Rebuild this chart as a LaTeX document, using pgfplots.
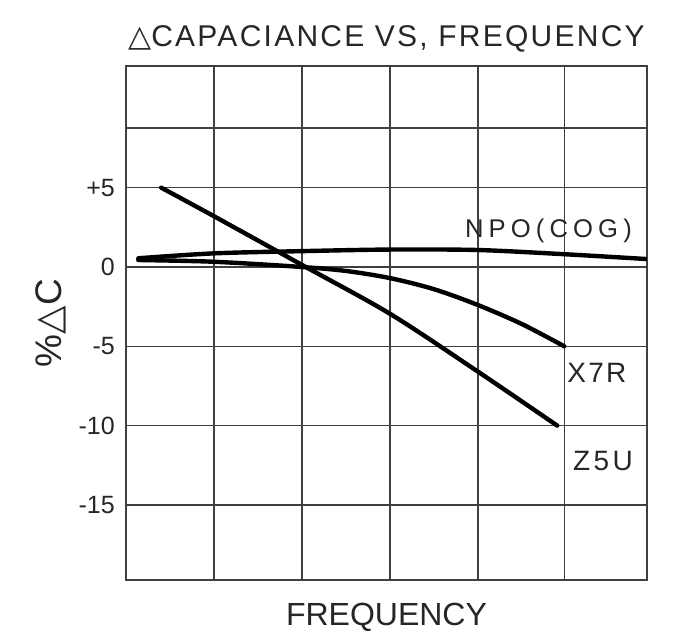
\documentclass[border=0pt]{standalone}
\usepackage{fontspec}
\setmainfont{Liberation Sans}
\newfontfamily\dejavu{DejaVu Sans}
\usepackage{pgfplots}
\pgfplotsset{compat=1.18}

\begin{document}
\begin{tikzpicture}
\begin{axis}[
 name=ax,
 scale only axis,
 width=521bp, height=514bp,
 xmin=0, xmax=5.92, ymin=-19.73, ymax=12.67,
 xtick={1,2,3,4,4.98}, xticklabels={},
 ytick={-15,-10,-5,0,5,8.76},
 yticklabels={{\raisebox{-11bp}{-15}},{\raisebox{-11bp}{-10}},{-5},{0},{+5},{}},
 major tick length=0pt,
 grid=major,
 grid style={line width=1.4bp, black!75},
 axis line style={line width=1.7bp, black!75},
 yticklabel style={font=\fontsize{25bp}{30bp}\selectfont, text=black!85, inner xsep=0pt, xshift=-11bp},
 clip=true,
]
% NPO(COG)
\addplot[line width=4.4bp, black, smooth, line cap=round] coordinates {
 (0.14,0.55) (1.0,0.86) (2.0,1.0) (3.0,1.1) (4.0,1.07) (5.0,0.8) (5.92,0.5)};
% X7R
\addplot[line width=4.4bp, black, smooth, line cap=round] coordinates {
 (0.14,0.44) (1.0,0.33) (2.0,0.0) (2.5,-0.25) (3.0,-0.7) (3.5,-1.4) (4.0,-2.4) (4.5,-3.6) (4.98,-5.0)};
% Z5U
\addplot[line width=4.4bp, black, smooth, line cap=round, line join=round] coordinates {
 (0.4,5.0) (1.0,3.2) (2.0,0.13) (3.0,-2.95) (4.0,-6.6) (4.9,-10.0)};
\node[anchor=base, font=\fontsize{25.6bp}{30bp}\selectfont, text=black!85] at (axis cs:4.8,1.83) {\addfontfeature{LetterSpace=20}NPO(COG)};
\node[anchor=base, font=\fontsize{28bp}{30bp}\selectfont, text=black!85] at (axis cs:5.35,-7.25) {\addfontfeature{LetterSpace=8}X7R};
\node[anchor=base, font=\fontsize{28bp}{30bp}\selectfont, text=black!85] at (axis cs:5.42,-12.8) {\addfontfeature{LetterSpace=12}Z5U};
\end{axis}
\node[anchor=base, font=\fontsize{30bp}{34bp}\selectfont, text=black!85, inner sep=0pt] at ([yshift=19bp]ax.north) {{\dejavu △}\addfontfeature{LetterSpace=7.5}CAPACIANCE VS, FREQUENCY};
\node[anchor=base, font=\fontsize{32bp}{36bp}\selectfont, text=black!85, inner sep=0pt] at ([yshift=-45bp]ax.south) {FREQUENCY};
\node[anchor=base, rotate=90, font=\fontsize{37bp}{40bp}\selectfont, text=black!85, inner sep=0pt] at ([xshift=-64bp]ax.west) {\%{\dejavu △}C};
\pgfresetboundingbox
\path[use as bounding box] (ax.south west) ++(-126bp,-54bp) rectangle ++(675bp,634bp);
\end{tikzpicture}
\end{document}
